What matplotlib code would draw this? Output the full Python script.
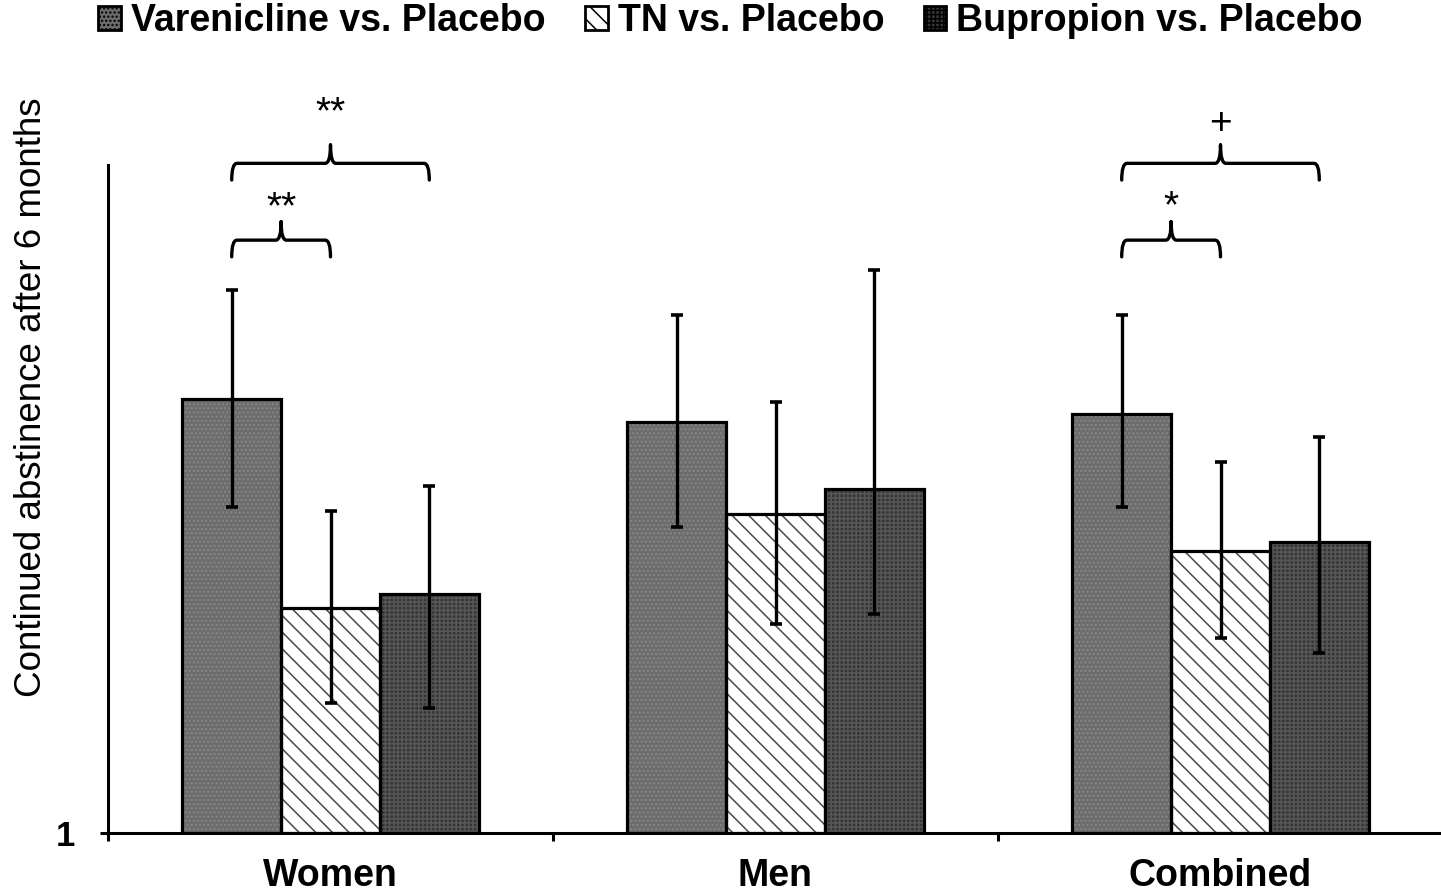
import matplotlib
matplotlib.use("Agg")
import matplotlib.pyplot as plt
import numpy as np
from matplotlib.patches import Patch, PathPatch
from matplotlib.path import Path

plt.rcParams['font.family'] = ['Liberation Sans', 'DejaVu Sans']
plt.rcParams['hatch.linewidth'] = 1.1

# Data -----------------------------------------------------------------
groups = ["Women", "Men", "Combined"]
series = ["Varenicline vs. Placebo", "TN vs. Placebo", "Bupropion vs. Placebo"]

varenicline = [3.60, 3.46, 3.51]
varenicline_lo = [2.95, 2.83, 2.95]
varenicline_hi = [4.25, 4.10, 4.10]

tn = [2.35, 2.91, 2.69]
tn_lo = [1.78, 2.25, 2.17]
tn_hi = [2.93, 3.58, 3.22]

bupropion = [2.43, 3.06, 2.74]
bupropion_lo = [1.75, 2.31, 2.08]
bupropion_hi = [3.08, 4.37, 3.37]

# significance brackets: (group index, first series, second series, level, label)
brackets = [
    (0, 0, 1, "low", "**"),
    (0, 0, 2, "high", "**"),
    (2, 0, 1, "low", "*"),
    (2, 0, 2, "high", "+"),
]
# vertical gap between a bracket and its label, in data units
label_gap = {"**": {"low": 0.08, "high": 0.19}, "*": {"low": 0.09}, "+": {"high": 0.13}}

# Styling ---------------------------------------------------------------
face = ["#6c6c6c", "#ffffff", "#363636"]
hatch = ["....", "\\\\", "++++"]
hatch_col = ["#868686", "#4a4a4a", "#575757"]

fig = plt.figure(figsize=(14.41, 8.92), dpi=100)
ax = fig.add_axes([108 / 1441, 1 - 833 / 892, 1335 / 1441, (833 - 165) / 892])

x = np.arange(len(groups))
width = 0.222
offsets = [-width, 0.0, width]
vals = [varenicline, tn, bupropion]
los = [varenicline_lo, tn_lo, bupropion_lo]
his = [varenicline_hi, tn_hi, bupropion_hi]

base = 1.0
for k in range(3):
    v = np.array(vals[k])
    xs = x + offsets[k]
    # textured fill
    ax.bar(xs, v - base, width, bottom=base, color=face[k], edgecolor=hatch_col[k],
           hatch=hatch[k], linewidth=0, zorder=2)
    # black outline
    ax.bar(xs, v - base, width, bottom=base, fill=False, edgecolor="black",
           linewidth=2.3, zorder=3)
    err = np.vstack([v - np.array(los[k]), np.array(his[k]) - v])
    ax.errorbar(xs, v, yerr=err, fmt="none", ecolor="black", elinewidth=2.4,
                capsize=4, capthick=2.6, zorder=4)

ax.set_xlim(-0.5, 2.5)
ax.set_ylim(base, 5.0)

for s in ["top", "right"]:
    ax.spines[s].set_visible(False)
ax.spines["left"].set_linewidth(2.2)
ax.spines["bottom"].set_linewidth(2.2)

ax.set_yticks([1])
ax.set_yticklabels(["1"], fontsize=25, fontweight="bold")
ax.tick_params(axis="y", direction="out", length=6, width=2.2, pad=18)

ax.set_xticks([-0.5, 0.5, 1.5, 2.5])
ax.set_xticklabels([])
ax.tick_params(axis="x", which="major", direction="out", length=6, width=2.2)
ax.set_xticks(x, minor=True)
ax.set_xticklabels(groups, minor=True, fontsize=27, fontweight="bold")
ax.tick_params(axis="x", which="minor", length=0, pad=18)

ax.set_ylabel("Continued abstinence after 6 months", fontsize=26.5)
ax.yaxis.set_label_coords(-0.044, 0.652)

# Significance brackets
levels = {"low": 4.55, "high": 5.01}
drop = 0.10
nub = 0.11
r = 0.012
for g, a, b, lev, lab in brackets:
    x0 = x[g] + offsets[a]
    x1 = x[g] + offsets[b]
    xm = (x0 + x1) / 2
    h = levels[lev]
    verts = [
        (x0, h - drop), (x0, h), (x0 + r, h),
        (xm - r, h), (xm, h), (xm, h + nub),
        (xm, h + nub), (xm, h), (xm + r, h),
        (x1 - r, h), (x1, h), (x1, h - drop),
    ]
    codes = [Path.MOVETO, Path.CURVE3, Path.CURVE3,
             Path.LINETO, Path.CURVE3, Path.CURVE3,
             Path.MOVETO, Path.CURVE3, Path.CURVE3,
             Path.LINETO, Path.CURVE3, Path.CURVE3]
    pp = PathPatch(Path(verts, codes), fill=False, edgecolor="black", lw=2.4,
                   clip_on=False, zorder=5, capstyle="round")
    ax.add_patch(pp)
    ax.text(xm, h + label_gap[lab][lev], lab, ha="center", va="bottom", fontsize=28,
            clip_on=False)

# Legend
handles = [Patch(facecolor=face[k], edgecolor="black", hatch=hatch[k], linewidth=2)
           for k in range(3)]
fig.legend(handles, series, loc="center", bbox_to_anchor=(0.507, 0.976), ncol=3,
           frameon=False, prop={"size": 27, "weight": "bold"}, handlelength=0.6,
           handleheight=0.6, handletextpad=0.27, columnspacing=1.05,
           borderpad=0, borderaxespad=0)

fig.savefig("out.png", dpi=100, facecolor="white")
